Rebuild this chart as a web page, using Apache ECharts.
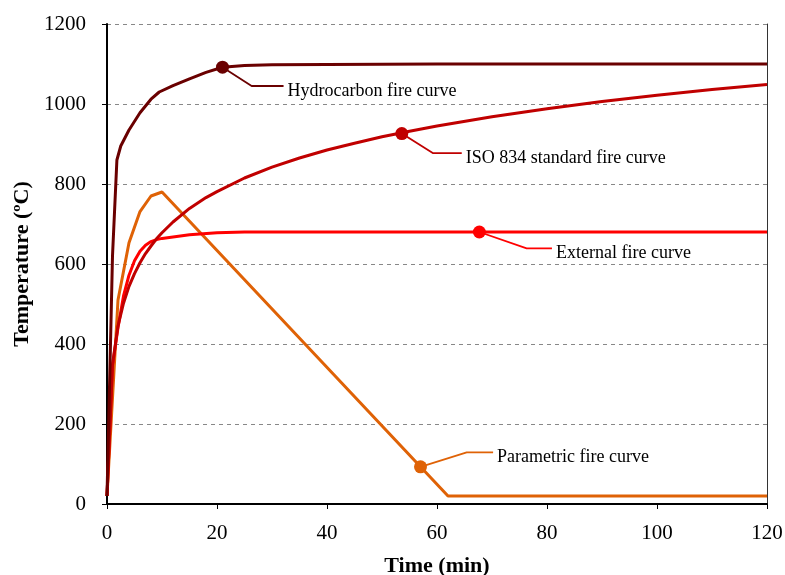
<!DOCTYPE html>
<html>
<head>
<meta charset="utf-8">
<script src="https://cdn.jsdelivr.net/npm/echarts@6/dist/echarts.min.js"></script>
<style>html,body{margin:0;padding:0;background:#fff;}#c{width:785px;height:575px;}</style>
</head>
<body>
<div id="c"></div>
<script>
// ---- Data (time in min, temperature in ºC) ----
const hydroTime = [0, 1, 1.8, 2.5, 4, 6, 8, 9.5, 12, 15, 18, 21, 25, 30, 40, 60, 120];
const hydroTemp = [20, 620, 860, 895, 935, 978, 1012, 1030, 1046, 1063, 1079, 1092, 1096, 1098, 1099, 1100, 1100];

const isoTime = [0, 1, 2, 3, 4, 5, 6, 7, 8, 9, 10, 12, 15, 18, 20, 25, 30, 35, 40, 45, 50, 55, 60, 70, 80, 90, 100, 110, 120];
const isoTemp = [20, 349, 445, 502, 544, 576, 603, 626, 645, 663, 678, 705, 739, 766, 781, 815, 842, 865, 885, 902, 918, 932, 945, 968, 988, 1006, 1022, 1036, 1049];

const extTime = [0, 1, 2, 3, 4, 5, 6, 7, 8, 9, 10, 15, 20, 25, 120];
const extTemp = [20, 346, 441, 520, 572, 608, 632, 647, 656, 661, 664, 673, 678, 680, 680];

const paraTime = [0, 2, 4, 6, 8, 10, 62, 120];
const paraTemp = [20, 510, 653, 731, 770, 780, 20, 20];

const seriesNames = ['Hydrocarbon fire curve', 'ISO 834 standard fire curve', 'External fire curve', 'Parametric fire curve'];
const seriesColors = ['#6A0000', '#C00000', '#FF0000', '#DF6206'];

// annotation anchors (data units): marker point, leader elbow, leader end
const markerTime = [21, 53.6, 67.7, 57];
const markerTemp = [1092, 926, 680, 93];
const elbowTime = [26.3, 59.3, 76.3, 65.4];
const elbowTemp = [1045, 877, 639, 129];
const leaderEndTime = [32.1, 64.5, 80.9, 70.2];

const xTicks = [0, 20, 40, 60, 80, 100, 120];
const yTicks = [0, 200, 400, 600, 800, 1000, 1200];

const font = 'Liberation Serif, Times New Roman, serif';
const zip = (a, b) => a.map((v, i) => [v, b[i]]);

const curves = [
  zip(hydroTime, hydroTemp),
  zip(isoTime, isoTemp),
  zip(extTime, extTemp),
  zip(paraTime, paraTemp)
];

const series = [];
// draw order: parametric, external, iso, hydro
[3, 2, 1, 0].forEach(i => {
  series.push({
    name: seriesNames[i],
    type: 'line',
    data: curves[i],
    showSymbol: false,
    smooth: false,
    lineStyle: { color: seriesColors[i], width: 3 },
    itemStyle: { color: seriesColors[i] },
    z: 2,
    silent: true,
    animation: false
  });
});
seriesNames.forEach((n, i) => {
  series.push({
    name: n,
    type: 'line',
    data: [
      { value: [markerTime[i], markerTemp[i]], symbol: 'circle', symbolSize: 13 },
      { value: [elbowTime[i], elbowTemp[i]], symbol: 'none' },
      { value: [leaderEndTime[i], elbowTemp[i]], symbol: 'none' }
    ],
    showAllSymbol: true,
    lineStyle: { color: seriesColors[i], width: 1.8 },
    itemStyle: { color: seriesColors[i] },
    endLabel: { show: true, distance: 4, offset: [0, 5], formatter: () => n,
                color: '#000', fontFamily: font, fontSize: 18 },
    z: 5,
    silent: true,
    animation: false
  });
});

const chart = echarts.init(document.getElementById('c'), null, { renderer: 'canvas' });
chart.setOption({
  backgroundColor: '#fff',
  animation: false,
  grid: { left: 107, right: 18, top: 24, bottom: 71, containLabel: false, outerBoundsMode: 'none' },
  xAxis: {
    type: 'value', min: xTicks[0], max: xTicks[xTicks.length - 1], interval: 20,
    name: 'Time (min)', nameLocation: 'middle', nameGap: 51,
    nameTextStyle: { fontFamily: font, fontSize: 22, fontWeight: 'bold', color: '#000' },
    axisLine: { show: true, onZero: false, lineStyle: { color: '#000', width: 2 } },
    axisTick: { show: true, length: 5, lineStyle: { color: '#000', width: 1 } },
    axisLabel: { fontFamily: font, fontSize: 21, color: '#000', margin: 19, formatter: v => String(v) },
    splitLine: { show: false }
  },
  yAxis: [{
    type: 'value', min: yTicks[0], max: yTicks[yTicks.length - 1], interval: 200,
    name: 'Temperature (ºC)', nameLocation: 'middle', nameGap: 73, nameRotate: 90,
    nameTextStyle: { fontFamily: font, fontSize: 22, fontWeight: 'bold', color: '#000' },
    axisLine: { show: true, onZero: false, lineStyle: { color: '#000', width: 2 } },
    axisTick: { show: true, length: 5, lineStyle: { color: '#000', width: 1 } },
    axisLabel: { fontFamily: font, fontSize: 21, color: '#000', margin: 21, formatter: v => String(v) },
    splitLine: { show: true, lineStyle: { color: '#888', width: 1, type: [4, 4] } }
  }, {
    type: 'value', position: 'right', min: 0, max: 1200, interval: 200,
    axisLine: { show: true, onZero: false, lineStyle: { color: '#333', width: 1 } },
    axisTick: { show: false }, axisLabel: { show: false }, splitLine: { show: false }
  }],
  series: series
});
</script>
</body>
</html>
